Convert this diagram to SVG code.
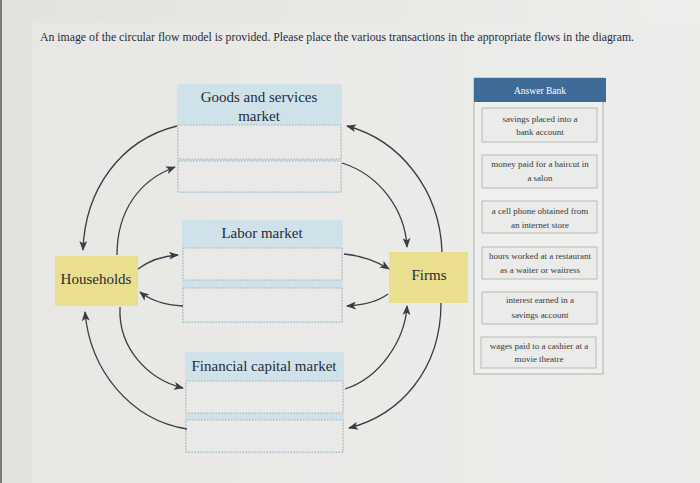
<svg xmlns="http://www.w3.org/2000/svg" width="700" height="483" viewBox="0 0 700 483">
<defs>
<marker id="ah" markerWidth="10" markerHeight="8" refX="9" refY="4" orient="auto" markerUnits="userSpaceOnUse">
<path d="M0,0 L10,4 L0,8 L2.5,4 Z" fill="#3a3d45"/>
</marker>
<linearGradient id="bg" x1="0" y1="0" x2="1" y2="0">
<stop offset="0" stop-color="#e3e2de"/>
<stop offset="1" stop-color="#eeeeec"/>
</linearGradient>
</defs>
<style>
.t{font-family:"Liberation Serif","Times New Roman",serif;fill:#252b3a}
.hdr{fill:#cfe2ea}
.slot{fill:#e9e9e7;stroke:#a9acb0;stroke-width:1;stroke-dasharray:1.5 1.5}
.ybox{fill:#e9df8e}
.lbl{font-size:15px;text-anchor:middle}
.item{fill:#ebebe9;stroke:#b9b9b9;stroke-width:1}
.it{font-size:9px;text-anchor:middle;fill:#3a3a3a}
.c{fill:none;stroke:#3a3d45;stroke-width:1.3;marker-end:url(#ah)}
</style>
<rect x="0" y="0" width="700" height="483" fill="url(#bg)"/>
<rect x="32" y="23" width="668" height="460" fill="#ecebe9" opacity="0.5"/>
<rect x="0" y="0" width="2" height="483" fill="#7a7a78"/>
<text class="t" x="40" y="41" font-size="12" textLength="594" lengthAdjust="spacingAndGlyphs">An image of the circular flow model is provided. Please place the various transactions in the appropriate flows in the diagram.</text>

<g id="goods">
<rect class="hdr" x="177" y="84" width="165" height="109"/>
<rect class="slot" x="178" y="125" width="163" height="34"/>
<rect class="slot" x="178" y="161" width="163" height="31"/>
<text class="t lbl" x="259" y="102">Goods and services</text>
<text class="t lbl" x="259" y="121">market</text>
</g>
<g id="labor">
<rect class="hdr" x="182" y="220" width="161" height="103"/>
<rect class="slot" x="183" y="248" width="159" height="32"/>
<rect class="slot" x="183" y="288" width="159" height="34"/>
<text class="t lbl" x="262" y="238">Labor market</text>
</g>
<g id="financial">
<rect class="hdr" x="185" y="352" width="159" height="101"/>
<rect class="slot" x="186" y="381" width="157" height="32"/>
<rect class="slot" x="186" y="420" width="157" height="32"/>
<text class="t lbl" x="264" y="371">Financial capital market</text>
</g>
<g id="households">
<rect class="ybox" x="55" y="256" width="83" height="50"/>
<text class="t lbl" x="96" y="284">Households</text>
</g>
<g id="firms">
<rect class="ybox" x="389" y="252" width="79" height="51"/>
<text class="t lbl" x="429" y="280">Firms</text>
</g>

<g id="connectors">
<path class="c" d="M177,126 C120,140 85,190 83,250"/>
<path class="c" d="M117,255 C117,210 140,180 175,167"/>
<path class="c" d="M442,252 C440,190 400,140 347,126"/>
<path class="c" d="M342,163 C380,175 405,210 407,247"/>
<path class="c" d="M138,269 C150,260 162,256 178,255"/>
<path class="c" d="M344,254 C365,256 378,262 389,269"/>
<path class="c" d="M183,306 C165,305 150,300 140,292"/>
<path class="c" d="M388,294 C380,300 365,305 347,306"/>
<path class="c" d="M120,307 C118,350 150,380 183,388"/>
<path class="c" d="M187,429 C130,420 90,370 85,312"/>
<path class="c" d="M345,389 C380,378 405,340 407,306"/>
<path class="c" d="M441,303 C441,370 400,415 349,428"/>
</g>

<g id="answer-bank">
<rect x="474" y="78" width="129" height="296" fill="#efefed" stroke="#b0b0b0" stroke-width="1"/>
<rect x="474" y="78" width="132" height="24" fill="#3f6b98"/>
<text class="t" x="540" y="94" font-size="9.5" text-anchor="middle" style="fill:#ffffff">Answer Bank</text>
<g id="item1"><rect class="item" x="482" y="108" width="115" height="34"/>
<text class="t it" x="540" y="122">savings placed into a</text><text class="t it" x="540" y="135">bank account</text></g>
<g id="item2"><rect class="item" x="482" y="155" width="115" height="33"/>
<text class="t it" x="540" y="167">money paid for a haircut in</text><text class="t it" x="540" y="181">a salon</text></g>
<g id="item3"><rect class="item" x="482" y="201" width="115" height="32"/>
<text class="t it" x="540" y="214">a cell phone obtained from</text><text class="t it" x="540" y="228">an internet store</text></g>
<g id="item4"><rect class="item" x="482" y="247" width="115" height="32"/>
<text class="t it" x="540" y="259">hours worked at a restaurant</text><text class="t it" x="540" y="273">as a waiter or waitress</text></g>
<g id="item5"><rect class="item" x="482" y="292" width="115" height="32"/>
<text class="t it" x="540" y="303">interest earned in a</text><text class="t it" x="540" y="318">savings account</text></g>
<g id="item6"><rect class="item" x="481" y="337" width="115" height="31"/>
<text class="t it" x="539" y="349">wages paid to a cashier at a</text><text class="t it" x="539" y="362">movie theatre</text></g>
</g>
</svg>
